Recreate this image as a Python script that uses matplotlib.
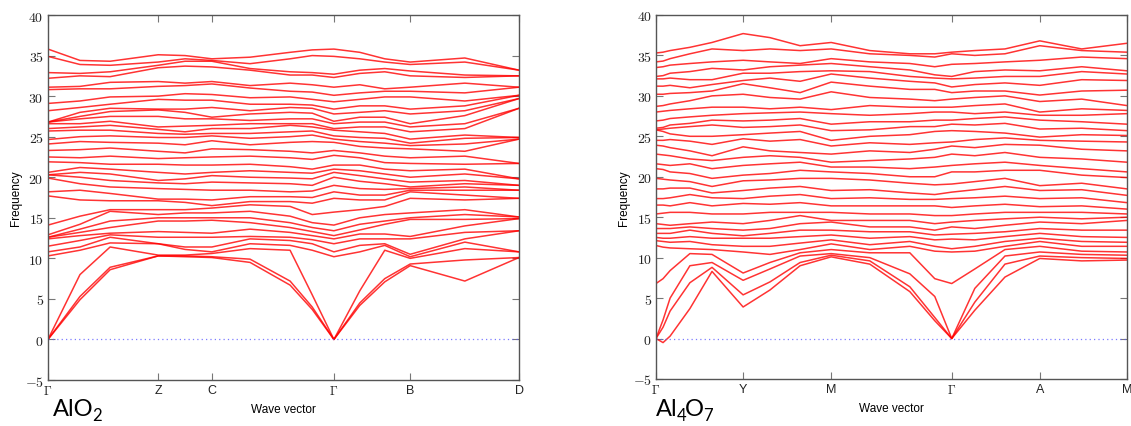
import matplotlib
matplotlib.use('Agg')
import matplotlib.pyplot as plt
from matplotlib.ticker import FuncFormatter, MultipleLocator

plt.rcParams['font.family'] = ['Liberation Sans', 'DejaVu Sans']
plt.rcParams['mathtext.fontset'] = 'cm'

# ---- AlO2 : path positions (fraction of path) and branch frequencies per q point
alo2_q = [0.0, 0.068, 0.132, 0.234, 0.291, 0.348, 0.429, 0.514, 0.561,
          0.607, 0.662, 0.715, 0.769, 0.885, 1.0]
alo2_ticks = [0.0, 0.234, 0.348, 0.607, 0.769, 1.0]
alo2_labels = [r'$\Gamma$', 'Z', 'C', r'$\Gamma$', 'B', 'D']
alo2_freq = [
    [35.8, 34.9, 32.9, 32.2, 31.1, 30.8, 29.1, 28.2, 26.8, 26.8, 26.8, 26.6, 26.0, 25.7, 24.65, 24.1, 23.3, 22.5, 21.9, 20.6, 20.3, 20.3, 19.9, 18.2, 17.7,
     14.1, 12.9, 12.6, 12.6, 12.4, 11.5, 10.8, 10.3, 0, 0, 0],
    [34.4, 33.9, 32.8, 32.5, 31.2, 30.9, 29.4, 28.6, 28.0, 27.5, 27.2, 26.6, 26.2, 25.8, 25.0, 24.4, 23.4, 22.4, 21.8, 21.2, 20.6, 20.0, 19.2, 18.4, 17.2,
     15.2, 14.2, 13.6, 13.2, 12.8, 12.2, 11.4, 11.0, 8.0, 5.3, 4.9],
    [34.3, 33.8, 33.0, 32.4, 31.7, 30.9, 29.9, 29.0, 28.5, 28.1, 27.5, 26.9, 26.4, 25.8, 25.1, 24.3, 23.6, 22.6, 21.6, 21.0, 20.4, 19.6, 18.8, 18.0, 17.1,
     16.0, 15.8, 14.6, 13.8, 13.1, 12.9, 12.6, 11.9, 11.4, 8.9, 8.6],
    [35.1, 34.2, 33.8, 33.5, 31.8, 31.2, 30.0, 29.6, 28.4, 28.3, 27.5, 26.2, 25.9, 25.4, 24.9, 24.2, 23.2, 22.3, 21.6, 20.6, 19.6, 19.3, 18.6, 17.3, 17.1,
     16.0, 15.4, 15.0, 14.6, 13.3, 12.6, 11.8, 11.8, 10.4, 10.3, 10.3],
    [35.0, 34.6, 34.3, 33.7, 31.6, 31.3, 30.3, 29.5, 28.4, 28.0, 27.2, 26.3, 25.6, 25.3, 24.9, 24.0, 23.0, 22.4, 21.5, 20.4, 19.8, 19.2, 18.5, 17.3, 16.9,
     16.0, 15.6, 15.0, 14.6, 13.2, 12.6, 11.4, 11.1, 10.4, 10.3, 10.2],
    [34.6, 34.4, 34.3, 33.6, 31.8, 31.5, 30.2, 29.5, 28.6, 27.4, 27.2, 26.4, 26.0, 25.4, 25.1, 24.5, 23.5, 22.5, 21.5, 20.6, 20.2, 19.4, 18.4, 17.2, 16.5,
     16.2, 15.6, 15.0, 14.7, 13.1, 12.6, 11.4, 10.8, 10.6, 10.2, 10.1],
    [34.8, 34.0, 33.4, 33.2, 31.3, 31.0, 29.8, 29.0, 28.2, 27.8, 27.0, 26.6, 26.0, 25.4, 24.8, 24.0, 23.4, 22.6, 21.6, 20.8, 20.0, 19.3, 18.4, 17.6, 17.0,
     16.6, 15.8, 15.0, 14.4, 13.6, 12.7, 12.4, 11.8, 11.2, 9.9, 9.5],
    [35.4, 34.6, 33.0, 32.6, 31.6, 30.6, 29.9, 29.0, 28.6, 28.0, 27.2, 26.6, 26.4, 25.6, 25.0, 24.3, 23.2, 22.4, 21.3, 20.6, 19.9, 19.2, 18.2, 17.6, 17.0,
     16.4, 15.2, 14.4, 13.8, 13.2, 12.6, 12.2, 11.6, 11.0, 7.2, 6.7],
    [35.7, 35.0, 32.9, 32.6, 31.4, 30.5, 29.6, 28.9, 28.5, 27.9, 27.2, 26.6, 26.2, 25.7, 25.2, 24.4, 23.0, 22.2, 21.0, 20.5, 19.8, 19.0, 18.3, 17.5, 16.8,
     15.4, 14.4, 13.8, 13.3, 12.8, 12.3, 11.8, 11.0, 5.5, 4.0, 3.7],
    [35.8, 34.9, 32.7, 32.3, 31.1, 30.1, 29.3, 28.4, 27.8, 26.9, 26.6, 26.0, 25.8, 25.1, 24.7, 24.3, 23.3, 22.7, 21.5, 21.0, 20.6, 20.0, 19.0, 18.2, 17.4,
     15.7, 14.1, 13.4, 12.8, 12.4, 11.8, 10.8, 10.2, 0, 0, 0],
    [35.4, 34.6, 33.2, 32.8, 31.4, 30.4, 29.6, 28.8, 28.0, 27.4, 26.8, 26.2, 25.6, 24.9, 24.4, 23.8, 23.0, 22.4, 21.5, 20.8, 20.2, 19.5, 18.6, 17.8, 17.2,
     16.0, 15.0, 14.2, 13.5, 13.0, 12.4, 11.6, 10.8, 6.0, 4.5, 4.2],
    [34.6, 34.2, 33.4, 33.0, 30.9, 30.6, 29.9, 28.8, 28.2, 27.4, 26.8, 26.2, 25.4, 24.8, 24.2, 23.6, 22.6, 21.8, 21.0, 20.4, 19.8, 19.2, 18.5, 17.8, 17.2,
     16.4, 15.4, 14.6, 14.2, 13.0, 12.4, 11.8, 11.6, 11.0, 7.5, 7.1],
    [34.2, 33.9, 33.1, 32.5, 31.1, 30.6, 29.9, 28.4, 27.8, 26.6, 26.2, 25.6, 24.7, 24.2, 23.9, 23.5, 22.4, 21.7, 20.8, 20.0, 19.4, 18.8, 18.6, 18.4, 18.2,
     17.4, 15.6, 15.0, 14.8, 12.7, 12.4, 10.5, 10.2, 10.0, 9.3, 9.1],
    [34.7, 34.2, 32.6, 32.3, 31.6, 30.4, 29.4, 28.8, 28.2, 27.6, 26.6, 26.0, 25.2, 24.8, 24.1, 23.2, 22.6, 21.6, 21.0, 20.4, 19.6, 19.2, 18.8, 18.4, 17.8,
     17.2, 16.0, 15.4, 14.8, 14.0, 13.2, 12.4, 12.0, 11.2, 9.8, 7.2],
    [33.2, 33.2, 32.5, 32.5, 31.1, 31.1, 30.1, 30.1, 29.7, 29.7, 28.5, 28.5, 24.9, 24.9, 24.7, 24.7, 21.7, 21.7, 19.8, 19.8, 19.0, 19.0, 18.4, 18.4, 17.4,
     17.4, 15.1, 15.1, 14.9, 14.9, 13.4, 13.4, 10.8, 10.8, 10.1, 10.1],
]

# ---- Al4O7
al4o7_q = [0.0, 0.015, 0.030, 0.072, 0.119, 0.185, 0.242, 0.306, 0.372,
           0.454, 0.539, 0.592, 0.628, 0.677, 0.741, 0.815, 0.904, 1.0]
al4o7_ticks = [0.0, 0.185, 0.372, 0.628, 0.815, 1.0]
al4o7_labels = [r'$\Gamma$', 'Y', 'M', r'$\Gamma$', 'A', 'M']
al4o7_freq = [
    [35.3, 34.2, 33.5, 32.4, 32.1, 31.2, 30.2, 28.7, 28.0, 26.9, 26.0, 25.8, 25.8, 24.5, 23.9, 22.8, 21.6, 21.0, 19.8, 18.5, 17.3, 16.5,
     15.4, 14.2, 13.6, 13.0, 12.5, 12.1, 11.5, 6.8, 0, 0, 0],
    [35.4, 34.3, 33.6, 32.5, 32.1, 31.2, 30.2, 28.8, 28.1, 27.0, 26.1, 25.9, 25.6, 24.5, 23.8, 22.7, 21.5, 20.9, 19.7, 18.5, 17.3, 16.5,
     15.5, 14.1, 13.6, 13.0, 12.4, 12.0, 11.3, 7.4, 2.3, 1.4, -0.5],
    [35.6, 34.6, 33.8, 32.8, 32.2, 31.3, 30.3, 29.0, 28.2, 27.2, 26.4, 26.0, 25.3, 24.6, 23.6, 22.6, 21.4, 20.6, 19.6, 18.6, 17.4, 16.4,
     15.6, 14.0, 13.6, 13.0, 12.4, 11.9, 11.2, 8.4, 5.0, 3.4, 0.3],
    [36.0, 35.2, 34.0, 33.0, 32.0, 31.0, 30.4, 29.4, 28.4, 27.4, 26.6, 26.2, 25.0, 24.4, 23.2, 22.2, 21.6, 20.4, 19.4, 18.6, 17.8, 16.8,
     15.6, 14.2, 13.8, 13.4, 12.6, 12.0, 11.1, 10.5, 9.0, 6.9, 3.7],
    [36.6, 35.8, 34.2, 33.4, 32.0, 31.4, 30.6, 30.0, 28.6, 27.6, 27.0, 26.4, 25.0, 24.0, 22.6, 22.0, 21.0, 19.8, 18.8, 18.0, 17.4, 16.4,
     15.4, 14.4, 13.6, 13.0, 12.4, 11.6, 11.0, 10.4, 9.4, 8.8, 8.3],
    [37.7, 35.6, 34.4, 33.2, 32.8, 31.9, 31.5, 30.2, 28.6, 27.8, 26.9, 26.1, 25.2, 24.7, 23.7, 22.4, 21.4, 20.2, 19.5, 18.3, 17.3, 16.7,
     15.4, 14.2, 13.4, 12.7, 12.4, 11.4, 10.7, 8.1, 7.2, 5.4, 3.9],
    [37.2, 35.8, 34.2, 33.6, 32.8, 32.2, 31.0, 29.8, 28.4, 27.9, 27.0, 26.2, 25.4, 24.4, 23.2, 22.6, 21.6, 20.4, 19.6, 18.6, 17.6, 16.6,
     15.6, 14.6, 13.6, 13.0, 12.4, 11.4, 10.4, 9.4, 8.6, 7.0, 6.0],
    [36.2, 35.6, 34.0, 33.8, 33.0, 31.8, 30.4, 29.6, 28.6, 28.0, 27.2, 26.4, 25.6, 24.6, 23.0, 22.4, 21.8, 20.8, 19.8, 18.8, 17.8, 16.8,
     15.6, 15.2, 14.2, 13.4, 12.6, 11.8, 11.0, 10.6, 10.2, 9.4, 9.0],
    [36.6, 35.8, 34.6, 34.0, 33.1, 32.7, 31.7, 30.5, 28.3, 27.8, 26.5, 25.7, 24.5, 23.8, 22.8, 21.8, 21.2, 20.6, 19.8, 18.3, 17.3, 16.4,
     15.6, 14.6, 14.4, 13.4, 12.8, 12.2, 11.7, 11.0, 10.5, 10.3, 10.1],
    [35.6, 35.2, 34.2, 33.6, 33.0, 32.2, 31.2, 29.8, 28.8, 27.6, 26.8, 25.8, 25.0, 24.2, 23.2, 22.0, 21.2, 20.4, 19.6, 18.4, 17.4, 16.4,
     15.4, 14.6, 13.8, 13.2, 12.4, 11.6, 11.0, 10.6, 10.0, 9.6, 9.2],
    [35.2, 35.0, 34.0, 33.2, 32.4, 31.8, 30.8, 29.6, 28.6, 27.8, 26.8, 26.2, 25.2, 24.0, 23.0, 22.2, 21.0, 20.0, 19.2, 18.0, 17.2, 16.4,
     15.4, 14.6, 13.8, 13.2, 12.6, 12.0, 11.4, 10.6, 8.0, 6.4, 5.8],
    [35.2, 34.8, 33.6, 32.6, 32.2, 31.6, 30.8, 29.4, 28.6, 28.0, 27.0, 26.2, 25.6, 24.2, 23.4, 22.4, 21.2, 20.0, 19.0, 17.8, 17.2, 16.4,
     15.2, 14.2, 13.4, 12.8, 12.2, 11.4, 10.8, 7.4, 5.2, 2.6, 2.2],
    [35.4, 35.2, 33.9, 32.4, 32.1, 31.1, 30.4, 29.6, 28.6, 28.0, 27.0, 26.5, 25.7, 24.3, 23.8, 22.8, 21.4, 20.6, 19.1, 18.1, 17.3, 16.2,
     15.2, 14.4, 13.8, 12.9, 12.3, 11.1, 10.7, 6.8, 0, 0, 0],
    [35.6, 35.0, 34.0, 33.0, 32.2, 31.4, 30.6, 29.8, 28.8, 27.8, 27.2, 26.4, 25.6, 24.6, 23.6, 22.6, 21.6, 20.6, 19.4, 18.4, 17.4, 16.4,
     15.4, 14.6, 13.6, 13.0, 12.2, 11.4, 10.8, 8.6, 6.2, 4.5, 3.5],
    [35.8, 35.2, 34.2, 33.2, 32.4, 31.6, 30.6, 30.0, 29.0, 28.0, 27.4, 26.6, 25.4, 24.8, 24.0, 23.0, 21.8, 20.8, 19.8, 18.8, 17.6, 16.6,
     15.6, 14.8, 14.0, 13.2, 12.6, 12.0, 11.4, 11.0, 10.2, 9.2, 7.6],
    [36.8, 36.2, 34.4, 33.1, 32.4, 31.3, 30.1, 29.3, 28.0, 27.6, 27.0, 25.9, 24.9, 24.5, 23.9, 22.4, 21.4, 20.8, 18.9, 18.3, 17.3, 16.3,
     15.6, 15.0, 14.4, 13.6, 13.0, 12.4, 12.0, 11.4, 10.7, 10.2, 9.9],
    [35.8, 35.6, 34.8, 33.6, 33.0, 32.0, 30.6, 29.6, 28.4, 27.6, 26.8, 26.0, 25.2, 24.4, 23.4, 22.2, 21.0, 20.2, 19.2, 18.4, 17.4, 16.4,
     15.6, 14.8, 14.2, 13.4, 12.6, 12.0, 11.4, 10.8, 10.4, 10.0, 9.6],
    [36.5, 35.4, 34.6, 33.1, 32.7, 31.9, 30.7, 28.8, 28.2, 27.8, 26.5, 25.7, 25.1, 24.3, 23.2, 21.8, 20.6, 19.9, 18.5, 17.7, 16.8, 16.0,
     15.4, 15.0, 14.6, 13.4, 12.5, 11.9, 11.4, 10.7, 10.3, 9.9, 9.7],
]


def draw_bands(ax, q, freq, ticks, labels):
    nb = len(freq[0])
    rows = [sorted(r) for r in freq]
    for b in range(nb):
        ax.plot(q, [r[b] for r in rows], color='red', lw=1.1, alpha=0.8,
                solid_joinstyle='round')
    ax.axhline(0, color='#5a5aff', lw=0.9, ls=(0, (1, 2.5)), alpha=0.8)
    ax.set_xlim(0, 1)
    ax.set_ylim(-5, 40)
    ax.set_xticks(ticks)
    ax.set_xticklabels(labels, fontsize=9)
    ax.yaxis.set_major_locator(MultipleLocator(5))
    ax.yaxis.set_major_formatter(FuncFormatter(lambda v, p: r'$%d$' % v))
    ax.tick_params(direction='in', top=True, right=True, length=5, width=0.8,
                   color='#777777', labelcolor='#222222', pad=3)
    ax.tick_params(axis='y', labelsize=10)
    for s in ax.spines.values():
        s.set_color('#555555')
        s.set_linewidth(1.0)
    ax.set_xlabel('Wave vector', fontsize=8.5, labelpad=4)
    ax.set_ylabel('Frequency', fontsize=8.5, labelpad=2)


fig = plt.figure(figsize=(11.31, 4.27), dpi=100)
ax1 = fig.add_axes([0.0424, 0.1077, 0.4165, 0.8548])
ax2 = fig.add_axes([0.5800, 0.1101, 0.4164, 0.8525])

draw_bands(ax1, alo2_q, alo2_freq, alo2_ticks, alo2_labels)
draw_bands(ax2, al4o7_q, al4o7_freq, al4o7_ticks, al4o7_labels)


def formula(x, y, parts):
    # parts: (text, subscript?)
    base = fig.text(x, y, parts[0][0], fontsize=17, family='Lato', va='bottom')
    prev = base
    for txt, sub in parts[1:]:
        prev = ax1.annotate(txt, xy=(1, 0), xycoords=(prev, base),
                            xytext=(-0.8, -2.5 if sub else 0), textcoords='offset points',
                            fontsize=12 if sub else 17, family='Lato', va='bottom',
                            annotation_clip=False)


formula(0.047, 0.016, [('AlO', False), ('2', True)])
formula(0.580, 0.016, [('Al', False), ('4', True), ('O', False), ('7', True)])

fig.savefig('out.png', dpi=100)
